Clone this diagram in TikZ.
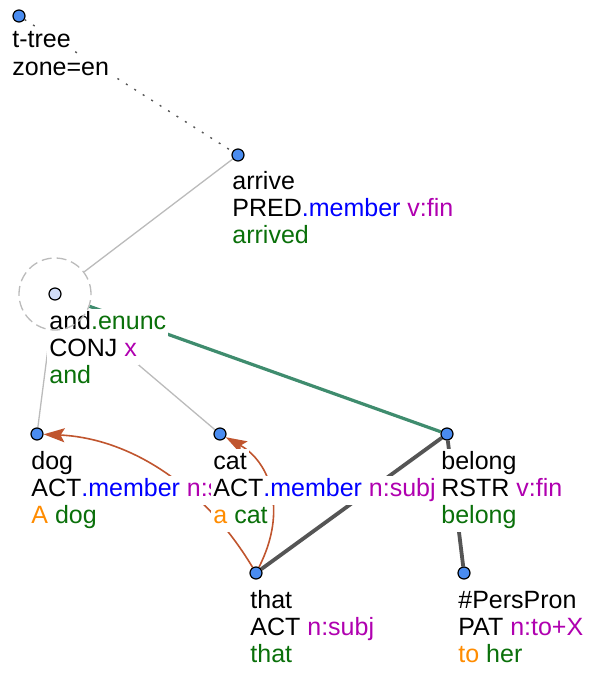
\documentclass[tikz,border=0pt]{standalone}
\usepackage{fontspec}
\setmainfont{Liberation Sans}
\usetikzlibrary{arrows.meta}
\pgfdeclarelayer{bg}
\pgfsetlayers{bg,main}
\definecolor{cblue}{HTML}{0000FF}
\definecolor{cmag}{HTML}{B000B0}
\definecolor{cgreen}{HTML}{0A700A}
\definecolor{corange}{HTML}{FF8C00}
\definecolor{nodefill}{HTML}{4A8CF0}
\definecolor{coapfill}{HTML}{D0DCF8}
\definecolor{edgegray}{HTML}{BBBBBB}
\definecolor{edgedark}{HTML}{555555}
\definecolor{edgegreen}{HTML}{3F8C6E}
\definecolor{corefc}{HTML}{C0552E}
\begin{document}
\begin{tikzpicture}[x=0.5pt,y=-0.5pt,
  tnode/.style={circle,draw=black,line width=0.6pt,fill=nodefill,minimum size=6pt,inner sep=0pt},
  coapnode/.style={tnode,fill=coapfill},
  coapring/.style={circle,draw=edgegray,line width=0.65pt,dash pattern=on 5pt off 2.5pt,minimum size=36pt,inner sep=0pt},
  lbl/.style={anchor=base west,fill=white,inner xsep=1pt,inner ysep=0pt,text height=10pt,text depth=4.5pt,font=\fontsize{12.5}{13.5}\selectfont},
  rootedge/.style={draw=edgedark,line width=0.7pt,dash pattern=on 1pt off 4pt},
  edgelight/.style={draw=edgegray,line width=0.65pt},
  edgedrk/.style={draw=edgedark,line width=1.9pt},
  edgegrn/.style={draw=edgegreen,line width=1.6pt},
  coref/.style={draw=corefc,line width=0.8pt,-{Stealth[length=10.5pt,width=7pt,inset=2pt]}},
]
\useasboundingbox (0,0) rectangle (601,673);
% tree nodes
\node[tnode] (root) at (19,16) {};
\node[tnode] (arrive) at (238,155) {};
\node[coapnode] (and) at (55,294) {};
\node[tnode] (dog) at (37,434) {};
\node[tnode] (cat) at (220,434) {};
\node[tnode] (belong) at (447,434) {};
\node[tnode] (that) at (256,573) {};
\node[tnode] (pp) at (464,573) {};
% labels
\node[lbl] (root-a) at (10,48) {t-tree};
\node[lbl] (root-b) at (10,76) {zone=en};
\node[lbl] (arrive-a) at (230,190) {arrive};
\node[lbl] (arrive-b) at (230,217) {PRED\textcolor{cblue}{.member} \textcolor{cmag}{v:fin}};
\node[lbl] (arrive-c) at (230,244) {\textcolor{cgreen}{arrived}};
\node[lbl] (and-a) at (47,329) {and\textcolor{cgreen}{.enunc}};
\node[lbl] (and-b) at (47,356) {CONJ \textcolor{cmag}{x}};
\node[lbl] (and-c) at (47,383) {\textcolor{cgreen}{and}};
\node[lbl] (dog-a) at (29,469) {dog};
\node[lbl] (dog-b) at (29,496) {ACT\textcolor{cblue}{.member} \textcolor{cmag}{n:subj}};
\node[lbl] (dog-c) at (29,523) {\textcolor{corange}{A} \textcolor{cgreen}{dog}};
\node[lbl] (cat-a) at (211,469) {cat};
\node[lbl] (cat-b) at (211,496) {ACT\textcolor{cblue}{.member} \textcolor{cmag}{n:subj}};
\node[lbl] (cat-c) at (211,523) {\textcolor{corange}{a} \textcolor{cgreen}{cat}};
\node[lbl] (belong-a) at (439,469) {belong};
\node[lbl] (belong-b) at (439,496) {RSTR \textcolor{cmag}{v:fin}};
\node[lbl] (belong-c) at (439,523) {\textcolor{cgreen}{belong}};
\node[lbl] (that-a) at (248,608) {that};
\node[lbl] (that-b) at (248,635) {ACT \textcolor{cmag}{n:subj}};
\node[lbl] (that-c) at (248,662) {\textcolor{cgreen}{that}};
\node[lbl] (pp-a) at (456,608) {\#PersPron};
\node[lbl] (pp-b) at (456,635) {PAT \textcolor{cmag}{n:to+X}};
\node[lbl] (pp-c) at (456,662) {\textcolor{corange}{to} \textcolor{cgreen}{her}};
% coordination ring
\node[coapring] (andc) at (55,294) {};
% edges
\begin{pgfonlayer}{bg}
\draw[rootedge] (root) -- (arrive);
\draw[edgelight] (arrive) -- (andc);
\draw[edgelight] (andc) -- (dog);
\draw[edgelight] (andc) -- (cat);
\draw[edgegrn] (andc) -- (belong);
\draw[edgedrk] (belong) -- (that);
\draw[edgedrk] (belong) -- (pp);
\draw[coref] (that) .. controls (200,480) and (125,438) .. (dog);
\draw[coref] (that) .. controls (288,510) and (270,462) .. (cat);
\end{pgfonlayer}
\end{tikzpicture}
\end{document}
